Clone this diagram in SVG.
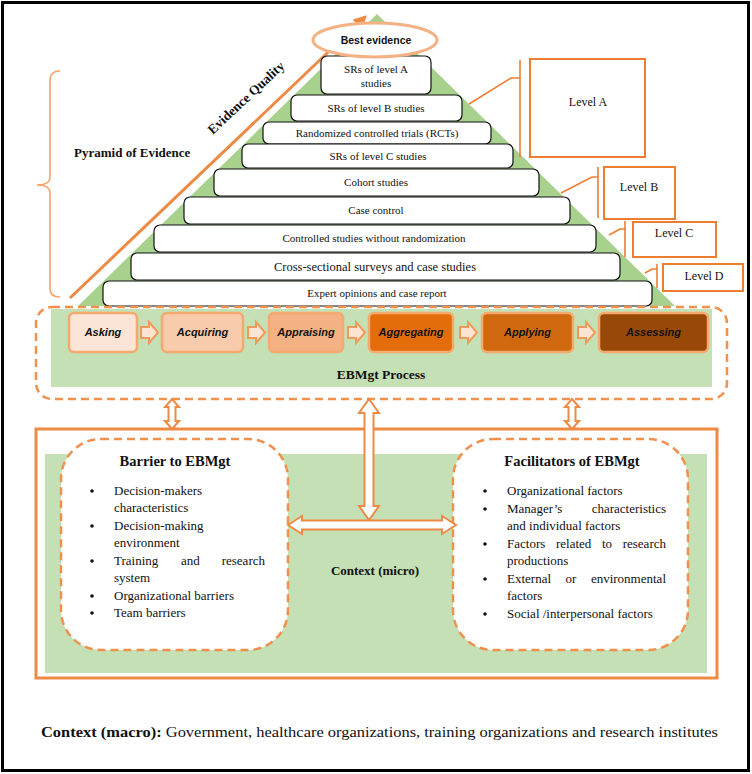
<svg xmlns="http://www.w3.org/2000/svg" width="752" height="774" viewBox="0 0 752 774">
<defs>
<style>
.serif{font-family:"Liberation Serif","Times New Roman",serif;fill:#111}
.sans{font-family:"Liberation Sans",Arial,sans-serif;fill:#111}
.step{fill:#fff;stroke:#111;stroke-width:1.2}
.st{font-size:11px;text-anchor:middle}
.lvl{fill:#fff;stroke:#ed7d31;stroke-width:2}
.lvlline{fill:none;stroke:#ed7d31;stroke-width:1.6}
.lt{font-size:12px;text-anchor:middle}
.proc{stroke:#f4a96f;stroke-width:2.5}
.pt{font-size:11px;font-weight:bold;font-style:italic;text-anchor:middle}
.parr{fill:#fde4d2;stroke:#f09a5a;stroke-width:2}
.dash{fill:#fff;stroke:#f0914e;stroke-width:2.5;stroke-dasharray:8 5}
.harr{fill:#fff;stroke:#ed8a45;stroke-width:2}
.bt{font-size:13px}
.title{font-size:14.5px;font-weight:bold;text-anchor:middle}
.end{text-anchor:end}
</style>
<marker id="ah" viewBox="0 0 10 10" refX="8" refY="5" markerWidth="4.5" markerHeight="4.5" orient="auto" markerUnits="strokeWidth">
<path d="M0,0 L10,5 L0,10 z" fill="#ed8a45"/>
</marker>
</defs>
<rect x="2.5" y="2.5" width="746" height="768" fill="#fff" stroke="#000" stroke-width="3"/>

<g id="pyramid">
<polygon points="78,306 377,14 675,306" fill="#a9d18e"/>
<line x1="70" y1="298" x2="365" y2="17" stroke="#ed8a45" stroke-width="3" marker-end="url(#ah)"/>
<text class="serif" font-size="13.5" font-weight="bold" text-anchor="middle" transform="translate(249,101) rotate(-43)">Evidence Quality</text>
</g>

<g id="steps">
<g id="step1"><rect class="step" x="321" y="56" width="110" height="38" rx="6"/><text class="serif st" x="376" y="73">SRs of level A</text><text class="serif st" x="376" y="87">studies</text></g>
<g id="step2"><rect class="step" x="291" y="95" width="171" height="26" rx="6"/><text class="serif st" x="376" y="112">SRs of level B studies</text></g>
<g id="step3"><rect class="step" x="263" y="122" width="228" height="22" rx="6"/><text class="serif st" x="377" y="137">Randomized controlled trials (RCTs)</text></g>
<g id="step4"><rect class="step" x="242" y="144" width="271" height="24" rx="6"/><text class="serif st" x="378" y="160">SRs of level C studies</text></g>
<g id="step5"><rect class="step" x="214" y="169" width="325" height="27" rx="6"/><text class="serif st" x="376" y="186">Cohort studies</text></g>
<g id="step6"><rect class="step" x="184" y="197" width="386" height="27" rx="6"/><text class="serif st" x="376" y="214">Case control</text></g>
<g id="step7"><rect class="step" x="154" y="225" width="442" height="27" rx="6"/><text class="serif st" x="374" y="242">Controlled studies without randomization</text></g>
<g id="step8"><rect class="step" x="131" y="253" width="489" height="27" rx="6"/><text class="serif" font-size="12.5" text-anchor="middle" x="375" y="271">Cross-sectional surveys and case studies</text></g>
<g id="step9"><rect class="step" x="103" y="281" width="549" height="25" rx="6"/><text class="serif st" x="377" y="297">Expert opinions and case report</text></g>
</g>

<g id="best-evidence">
<ellipse cx="375" cy="40" rx="62" ry="17" fill="#fff" stroke="#f4b183" stroke-width="3"/>
<text class="sans" font-size="10.5" font-weight="bold" text-anchor="middle" x="376" y="44">Best evidence</text>
</g>

<g id="pyramid-label">
<path d="M60,71 Q50,71 50,80 V177 Q50,185 37,185 Q50,185 50,193 V289 Q50,297 60,297" fill="none" stroke="#f4a46a" stroke-width="1.6"/>
<text class="serif" font-size="13" font-weight="bold" x="74" y="157">Pyramid of Evidence</text>
</g>

<g id="level-a">
<polyline class="lvlline" points="469,104 511,78 520,78"/><line class="lvlline" x1="520" y1="60" x2="520" y2="157"/>
<rect class="lvl" x="530" y="59" width="115" height="98"/><text class="serif lt" x="588" y="106">Level A</text>
</g>
<g id="level-b">
<polyline class="lvlline" points="561,193 592,177 598,177"/><line class="lvlline" x1="598" y1="167" x2="598" y2="218"/>
<rect class="lvl" x="604" y="167" width="71" height="52"/><text class="serif lt" x="639" y="191">Level B</text>
</g>
<g id="level-c">
<polyline class="lvlline" points="609,235 620,229 625,229"/><line class="lvlline" x1="625" y1="221" x2="625" y2="257"/>
<rect class="lvl" x="633" y="222" width="83" height="35"/><text class="serif lt" x="674" y="237">Level C</text>
</g>
<g id="level-d">
<polyline class="lvlline" points="645,273 652,269 657,269"/><line class="lvlline" x1="657" y1="264" x2="657" y2="288"/>
<rect class="lvl" x="663" y="264" width="80" height="27"/><text class="serif lt" x="704" y="280">Level D</text>
</g>

<g id="process">
<rect class="dash" x="36" y="307" width="691" height="92" rx="16"/>
<rect x="51" y="309" width="661" height="78" fill="#c5e0b4"/>
<text class="serif" font-size="13.5" font-weight="bold" text-anchor="middle" x="381" y="379">EBMgt Process</text>
</g>
<g id="asking"><rect class="proc" x="69" y="313" width="68" height="39" rx="5" fill="#fce4d6"/><text class="sans pt" x="103" y="336">Asking</text></g>
<g id="acquiring"><rect class="proc" x="162" y="313" width="81" height="39" rx="5" fill="#f8cbad"/><text class="sans pt" x="202.5" y="336">Acquiring</text></g>
<g id="appraising"><rect class="proc" x="269" y="313" width="74" height="39" rx="5" fill="#f4b183"/><text class="sans pt" x="306" y="336">Appraising</text></g>
<g id="aggregating"><rect class="proc" x="369" y="313" width="84" height="39" rx="5" fill="#e46c0a"/><text class="sans pt" x="411" y="336">Aggregating</text></g>
<g id="applying"><rect class="proc" x="482" y="313" width="91" height="39" rx="5" fill="#d0680f"/><text class="sans pt" x="527.5" y="336">Applying</text></g>
<g id="assessing"><rect class="proc" x="599" y="313" width="109" height="39" rx="5" fill="#984807"/><text class="sans pt" x="653.5" y="336">Assessing</text></g>

<g id="context-micro">
<rect x="36" y="429" width="681" height="249" fill="#fff" stroke="#ed8a45" stroke-width="3"/>
<rect x="45" y="454" width="662" height="219" fill="#c5e0b4"/>
<text class="serif" font-size="13" font-weight="bold" text-anchor="middle" x="375" y="575">Context (micro)</text>
</g>

<g id="barrier">
<rect class="dash" x="61" y="439" width="227" height="211" rx="40"/>
<text class="serif title" x="175" y="466">Barrier to EBMgt</text>
<g class="serif bt">
<circle cx="92" cy="491" r="1.8" fill="#111"/><text x="114" y="495">Decision-makers</text>
<text x="114" y="512">characteristics</text>
<circle cx="92" cy="526" r="1.8" fill="#111"/><text x="114" y="530">Decision-making</text>
<text x="114" y="547">environment</text>
<circle cx="92" cy="561" r="1.8" fill="#111"/><text x="114" y="565">Training</text><text x="181" y="565">and</text><text class="end" x="265" y="565">research</text>
<text x="114" y="582">system</text>
<circle cx="92" cy="596" r="1.8" fill="#111"/><text x="114" y="600">Organizational barriers</text>
<circle cx="92" cy="613" r="1.8" fill="#111"/><text x="114" y="617">Team barriers</text>
</g>
</g>

<g id="facilitators">
<rect class="dash" x="453" y="439" width="235" height="211" rx="40"/>
<text class="serif title" x="572" y="466">Facilitators of EBMgt</text>
<g class="serif bt">
<circle cx="485" cy="491" r="1.8" fill="#111"/><text x="507" y="495">Organizational factors</text>
<circle cx="485" cy="509" r="1.8" fill="#111"/><text x="507" y="513">Manager’s</text><text class="end" x="666" y="513">characteristics</text>
<text x="507" y="530">and individual factors</text>
<circle cx="485" cy="544" r="1.8" fill="#111"/><text x="507" y="548">Factors</text><text x="556" y="548">related</text><text x="602" y="548">to</text><text class="end" x="666" y="548">research</text>
<text x="507" y="565">productions</text>
<circle cx="485" cy="579" r="1.8" fill="#111"/><text x="507" y="583">External</text><text x="565.5" y="583">or</text><text class="end" x="666" y="583">environmental</text>
<text x="507" y="600">factors</text>
<circle cx="485" cy="614" r="1.8" fill="#111"/><text x="507" y="618">Social /interpersonal factors</text>
</g>
</g>

<g id="connectors">
<polygon class="parr" points="141,327 149,327 149,322 158,332.5 149,343 149,338 141,338"/>
<polygon class="parr" points="248,327 256,327 256,322 265,332.5 256,343 256,338 248,338"/>
<polygon class="parr" points="348,327 356,327 356,322 365,332.5 356,343 356,338 348,338"/>
<polygon class="parr" points="460,327 468,327 468,322 477,332.5 468,343 468,338 460,338"/>
<polygon class="parr" points="578,327 586,327 586,322 595,332.5 586,343 586,338 578,338"/>
<polygon class="harr" points="172,399 179,407 175.5,407 175.5,421 179,421 172,429 165,421 168.5,421 168.5,407 165,407"/>
<polygon class="harr" points="572,399 579,407 575.5,407 575.5,421 579,421 572,429 565,421 568.5,421 568.5,407 565,407"/>
<polygon class="harr" points="369,399 379,413 373.5,413 373.5,506 379,506 369,520 359,506 364.5,506 364.5,413 359,413"/>
<polygon class="harr" points="288,525 302,516 302,520.5 442,520.5 442,516 456,525 442,534 442,529.5 302,529.5 302,534"/>
</g>

<g id="context-macro">
<text class="serif" font-size="15" x="41" y="737" textLength="677" lengthAdjust="spacingAndGlyphs"><tspan font-weight="bold">Context (macro):</tspan> Government, healthcare organizations, training organizations and research institutes</text>
</g>
</svg>
